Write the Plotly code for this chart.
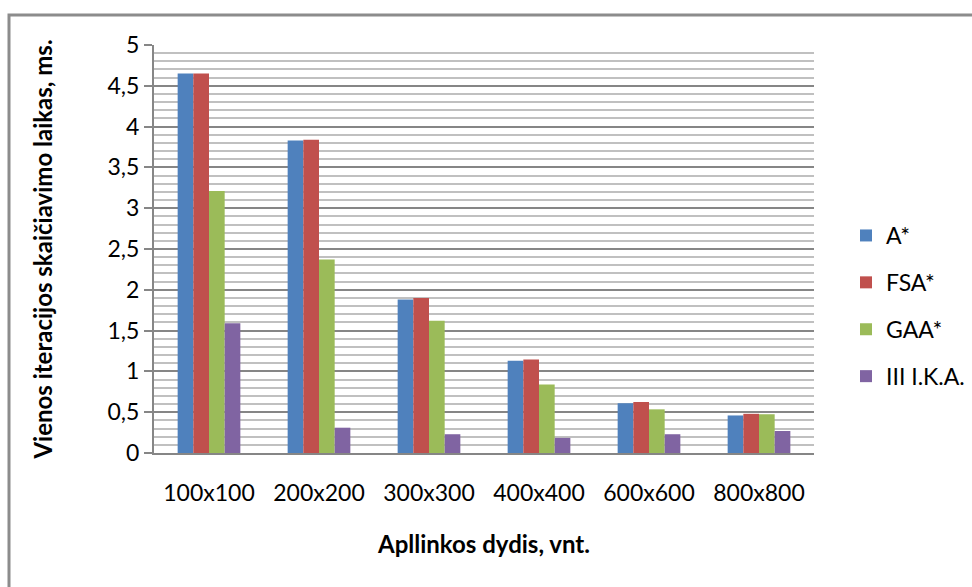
import plotly.graph_objects as go

categories = ["100x100", "200x200", "300x300", "400x400", "600x600", "800x800"]
series_names = ["A*", "FSA*", "GAA*", "III I.K.A."]
a_star = [4.65, 3.83, 1.88, 1.13, 0.61, 0.46]
fsa_star = [4.65, 3.84, 1.90, 1.145, 0.625, 0.48]
gaa_star = [3.21, 2.37, 1.62, 0.84, 0.535, 0.475]
iii_ika = [1.59, 0.31, 0.23, 0.185, 0.23, 0.27]
colors = ["#4F81BD", "#C0504D", "#9BBB59", "#8064A2"]

FONT = "Lato"
fig = go.Figure()
for i, (name, vals) in enumerate(zip(series_names, [a_star, fsa_star, gaa_star, iii_ika])):
    fig.add_trace(go.Bar(
        x=categories, y=vals, name=name, legendgroup=name,
        marker=dict(color=colors[i], line=dict(width=0)),
    ))

L, R, T, B = 154, 158, 45, 134
W, H = 972, 587
pw, ph = W - L - R, H - T - B

def px_x(p):
    return (p - L) / pw

def px_y(p):
    return (H - B - p) / ph

fig.update_layout(
    width=W, height=H,
    margin=dict(l=L, r=R, t=T, b=B, autoexpand=False),
    paper_bgcolor="white", plot_bgcolor="white",
    separators=", ",
    barmode="group", bargap=0.43, bargroupgap=0,
    font=dict(family=FONT, size=23, color="#000000"),
    showlegend=True,
    legend=dict(
        x=px_x(846), y=px_y(214), xanchor="left", yanchor="top",
        traceorder="grouped", tracegroupgap=14,
        font=dict(family=FONT, size=23, color="#000000"),
        bgcolor="rgba(0,0,0,0)",
    ),
    xaxis=dict(
        showline=True, linecolor="#868686", linewidth=2,
        ticks="", ticklabelstandoff=18, automargin=False,
        tickfont=dict(family=FONT, size=23),
        title=dict(text="<b>Apllinkos dydis, vnt.</b>", font=dict(family=FONT, size=24), standoff=32),
        showgrid=False, fixedrange=True,
    ),
    yaxis=dict(
        range=[0, 5], dtick=0.5, tick0=0, automargin=False,
        showline=True, linecolor="#868686", linewidth=2,
        ticks="outside", ticklen=8, tickcolor="#868686", tickwidth=2,
        tickfont=dict(family=FONT, size=23),
        showgrid=True, gridcolor="#868686", gridwidth=2,
        minor=dict(dtick=0.1, showgrid=True, gridcolor="#C0C0C0", gridwidth=2, ticks=""),
        zeroline=False,
        title=dict(text="<b>Vienos iteracijos skaičiavimo laikas, ms.</b>", font=dict(family=FONT, size=24), standoff=48),
        fixedrange=True,
    ),
    shapes=[dict(
        type="rect", xref="paper", yref="paper",
        x0=px_x(9), x1=px_x(1000), y0=px_y(620), y1=px_y(15),
        line=dict(color="#8C8C8C", width=3), fillcolor="rgba(0,0,0,0)", layer="below",
    )],
)

fig.write_html("out.html")
